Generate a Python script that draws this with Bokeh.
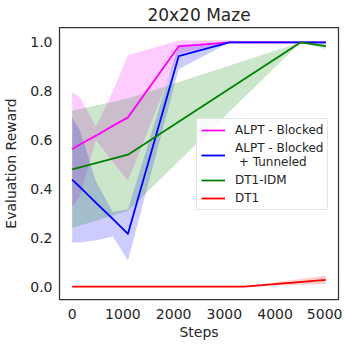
from bokeh.plotting import figure
from bokeh.models import Range1d, Legend, LegendItem, FixedTicker, PrintfTickFormatter, NumeralTickFormatter
from bokeh.embed import file_html
from bokeh.resources import INLINE

title = "20x20 Maze"
x_label = "Steps"
y_label = "Evaluation Reward"
x_ticks = [0, 1000, 2000, 3000, 4000, 5000]
y_ticks = [0.0, 0.2, 0.4, 0.6, 0.8, 1.0]

# ALPT - Blocked
alpt_steps = [0, 150, 470, 800, 1100, 2100, 3100, 5000]
alpt_mean = [0.562, 0.582, 0.618, 0.658, 0.693, 0.984, 1.0, 1.0]
alpt_hi = [0.797, 0.775, 0.655, 0.80, 0.947, 1.008, 1.008, 1.0]
alpt_lo = [0.326, 0.37, 0.60, 0.51, 0.433, 0.955, 1.0, 1.0]

# ALPT - Blocked + Tunneled
tun_steps = [0, 150, 470, 800, 1100, 2100, 3100, 5000]
tun_mean = [0.438, 0.408, 0.343, 0.277, 0.216, 0.944, 1.0, 1.0]
tun_hi = [0.694, 0.64, 0.43, 0.305, 0.317, 0.99, 1.0, 1.0]
tun_lo = [0.18, 0.18, 0.19, 0.205, 0.107, 0.89, 1.0, 0.995]

# DT1-IDM
idm_steps = [0, 1100, 4500, 5000]
idm_mean = [0.48, 0.54, 1.0, 0.985]
idm_hi = [0.72, 0.77, 1.0, 0.997]
idm_lo = [0.24, 0.31, 1.0, 0.973]

# DT1
dt_steps = [0, 3400, 5000]
dt_mean = [0.0, 0.0, 0.027]
dt_hi = [0.0, 0.0, 0.044]
dt_lo = [0.0, 0.0, 0.01]

series = [
    ("ALPT - Blocked", "#ff00ff", alpt_steps, alpt_mean, alpt_lo, alpt_hi),
    ("ALPT - Blocked\n + Tunneled", "#0000ff", tun_steps, tun_mean, tun_lo, tun_hi),
    ("DT1-IDM", "#008000", idm_steps, idm_mean, idm_lo, idm_hi),
    ("DT1", "#ff0000", dt_steps, dt_mean, dt_lo, dt_hi),
]

text_color = "#262626"

p = figure(frame_width=279, frame_height=272, output_backend="svg", toolbar_location=None,
           x_range=Range1d(-250, 5250), y_range=Range1d(-0.053, 1.061),
           title=title, min_border_left=47, min_border_right=4,
           min_border_top=25, min_border_bottom=10)
p.background_fill_color = "white"
p.border_fill_color = "white"
p.xgrid.visible = False
p.ygrid.visible = False
p.outline_line_color = "#333333"
p.outline_line_width = 1.25

p.title.text_font = "DejaVu Sans"
p.title.text_font_size = "17px"
p.title.text_font_style = "normal"
p.title.text_color = text_color
p.title.align = "center"
p.title.standoff = 5

for ax in (p.xaxis[0], p.yaxis[0]):
    ax.axis_line_color = None
    ax.major_tick_out = 0
    ax.major_tick_in = 0
    ax.minor_tick_out = 0
    ax.minor_tick_in = 0
    ax.major_label_text_font = "DejaVu Sans"
    ax.major_label_text_font_size = "14px"
    ax.major_label_text_color = text_color
    ax.axis_label_text_font = "DejaVu Sans"
    ax.axis_label_text_font_size = "14px"
    ax.axis_label_text_font_style = "normal"
    ax.axis_label_text_color = text_color

p.xaxis.axis_label = x_label
p.yaxis.axis_label = y_label
p.xaxis.ticker = FixedTicker(ticks=x_ticks)
p.yaxis.ticker = FixedTicker(ticks=y_ticks)
p.xaxis.formatter = NumeralTickFormatter(format="0")
p.yaxis.formatter = PrintfTickFormatter(format="%.1f")
p.xaxis.major_label_standoff = 9
p.yaxis.major_label_standoff = 7
p.xaxis.axis_label_standoff = 2
p.yaxis.axis_label_standoff = 8

items = []
for name, color, xs, m, lo, hi in series:
    p.varea(x=xs, y1=lo, y2=hi, fill_color=color, fill_alpha=0.2)
for name, color, xs, m, lo, hi in series:
    r = p.line(x=xs, y=m, line_color=color, line_width=1.8, line_join="round")
    items.append(LegendItem(label=name, renderers=[r]))

legend = Legend(items=items, location=(137, 89))
legend.label_text_font = "DejaVu Sans"
legend.label_text_font_size = "12px"
legend.label_text_color = text_color
legend.label_text_line_height = 1.3
legend.border_line_color = "#cccccc"
legend.border_line_width = 1
legend.background_fill_alpha = 0.85
legend.glyph_width = 24
legend.glyph_height = 14
legend.label_standoff = 10
legend.spacing = 4
legend.padding = 4
legend.margin = 0
p.add_layout(legend)

open("out.html", "w").write(file_html(p, INLINE))
